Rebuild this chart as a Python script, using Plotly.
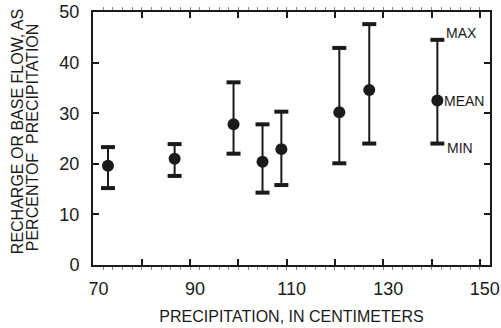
import plotly.graph_objects as go

# Data
precip_cm = [73.0, 86.8, 99.0, 105.0, 108.9, 120.9, 127.1, 141.2]
mean_pct = [19.6, 21.0, 27.8, 20.4, 22.9, 30.2, 34.6, 32.5]
max_pct = [23.3, 23.9, 36.1, 27.8, 30.3, 42.9, 47.6, 44.5]
min_pct = [15.2, 17.6, 22.0, 14.3, 15.8, 20.1, 24.0, 24.0]

x_tickvals = [70, 80, 90, 100, 110, 120, 130, 140, 150]
x_ticktext = ["70", "", "90", "", "110", "", "130", "", "150"]
y_tickvals = [0, 10, 20, 30, 40, 50]

FONT = "Liberation Sans, Arial, sans-serif"
INK = "#1a1a1a"

plus = [mx - m for mx, m in zip(max_pct, mean_pct)]
minus = [m - mn for m, mn in zip(mean_pct, min_pct)]

fig = go.Figure()

# vertical range lines + mean dots
fig.add_trace(go.Scatter(
    x=precip_cm, y=mean_pct, mode="markers",
    marker=dict(size=12, color=INK),
    error_y=dict(type="data", symmetric=False, array=plus, arrayminus=minus,
                 color=INK, thickness=2, width=0),
    showlegend=False, cliponaxis=False, hoverinfo="skip",
))
# caps (max and min)
fig.add_trace(go.Scatter(
    x=precip_cm + precip_cm, y=max_pct + min_pct, mode="markers",
    marker=dict(symbol="line-ew", size=10, line=dict(width=4, color=INK)),
    showlegend=False, cliponaxis=False, hoverinfo="skip",
))

last = len(precip_cm) - 1
for txt, yv, ys, xs in [("MAX", max_pct[last], 7, 7), ("MEAN", mean_pct[last], 0, 5), ("MIN", min_pct[last], -4, 8)]:
    fig.add_annotation(x=precip_cm[last], y=yv, text=txt, showarrow=False,
                       xanchor="left", yanchor="middle", xshift=xs, yshift=ys,
                       font=dict(family=FONT, size=14, color=INK))

# y-axis title as two lines
fig.add_annotation(xref="paper", yref="paper", x=0, y=0.525, text="RECHARGE OR BASE FLOW, AS",
                   textangle=-90, showarrow=False, xanchor="center", yanchor="middle",
                   xshift=-76, font=dict(family=FONT, size=16, color=INK))
fig.add_annotation(xref="paper", yref="paper", x=0, y=0.505, text="PERCENTOF  PRECIPITATION",
                   textangle=-90, showarrow=False, xanchor="center", yanchor="middle",
                   xshift=-61, font=dict(family=FONT, size=16, color=INK))

fig.update_layout(
    width=501, height=328,
    margin=dict(l=93, r=11, t=12, b=63, autoexpand=False),
    paper_bgcolor="white", plot_bgcolor="white",
    font=dict(family=FONT, color=INK),
    xaxis=dict(
        range=[69.9, 152.1], tickvals=x_tickvals, ticktext=x_ticktext,
        ticks="inside", ticklen=6, tickwidth=1.5, tickcolor=INK,
        showline=True, linewidth=2, linecolor=INK, mirror="ticks",
        showgrid=False, zeroline=False, automargin=False,
        tickfont=dict(size=18, family=FONT, color=INK), ticklabelstandoff=6,
        ticklabelshift=5,
        minor=dict(dtick=2, ticks="outside", ticklen=3, tickwidth=1, tickcolor="#888888", showgrid=False),
        title=dict(text="PRECIPITATION, IN CENTIMETERS", font=dict(size=16, family=FONT, color=INK), standoff=13),
    ),
    yaxis=dict(
        range=[0, 50], tickvals=y_tickvals,
        ticks="inside", ticklen=6, tickwidth=1.5, tickcolor=INK,
        showline=True, linewidth=2, linecolor=INK, mirror="ticks",
        showgrid=False, zeroline=False, automargin=False,
        tickfont=dict(size=18, family=FONT, color=INK), ticklabelstandoff=8,
    ),
)

fig.write_html(
    "out.html",
    config={"displayModeBar": False},
    post_script="document.body.style.margin='0';document.body.style.padding='0';document.documentElement.style.overflow='hidden';",
)
